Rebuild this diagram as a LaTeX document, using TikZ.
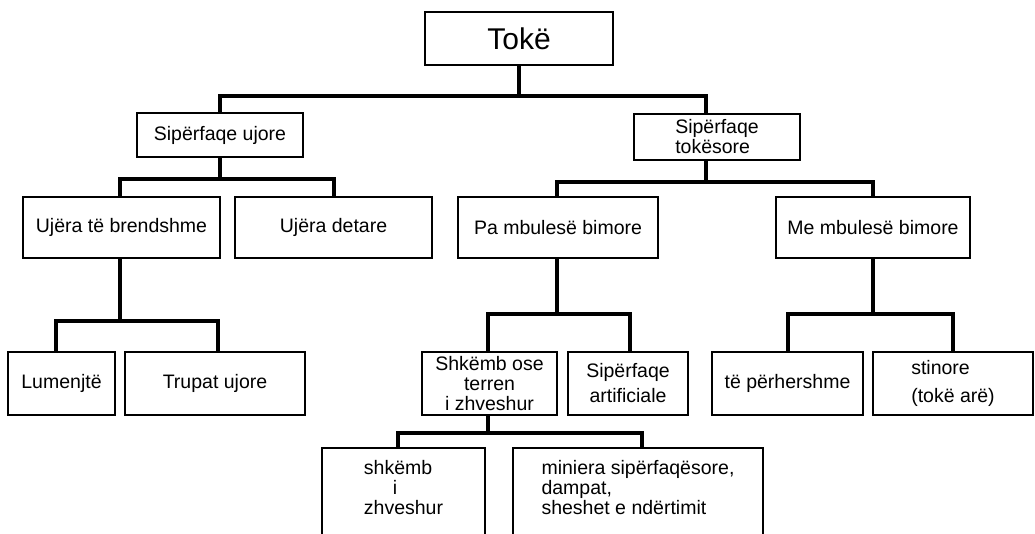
\documentclass[tikz,border=0pt]{standalone}
\usepackage{fontspec}
\setmainfont{Liberation Sans}
\usetikzlibrary{calc}
\begin{document}
\begin{tikzpicture}[x=1pt,y=-1pt,
  box/.style={draw=black, line width=2.5pt, fill=white, inner sep=0pt,
    font=\fontsize{19.5}{20}\selectfont, align=center},
  openbox/.style={draw=none, inner sep=0pt, outer sep=0pt,
    font=\fontsize{19.5}{20}\selectfont},
  boxline/.style={draw=black, line width=2.5pt, line join=miter},
  wh/.style 2 args={minimum width=#1pt, minimum height=#2pt},
  conn/.style={draw=black, line width=4pt, line join=miter}]
\useasboundingbox (0,0) rectangle (1035,534);
\clip (0,0) rectangle (1035,534);

% level 0
\node[box, wh={188}{53}, font=\fontsize{30}{32}\selectfont] (toke) at (519,38.5) {Tokë};

% level 1
\node[box, wh={166}{44}] (ujore) at (220,135) {Sipërfaqe ujore};
\node[box, wh={166}{46}, align=left] (tokesore) at (717,137) {Sipërfaqe\\tokësore};

% level 2
\node[box, wh={197}{61}] (brendshme) at (121.5,227.5) {Ujëra të brendshme};
\node[box, wh={197}{61}] (detare) at (333.5,227.5) {Ujëra detare};
\node[box, wh={200}{61}] (pambul) at (558,227.5) {Pa mbulesë bimore};
\node[box, wh={194}{61}] (mebul) at (873,227.5) {Me mbulesë bimore};

% level 3
\node[box, wh={107}{63}] (lumenj) at (61.5,383.5) {Lumenjtë};
\node[box, wh={180}{63}] (trupat) at (215,383.5) {Trupat ujore};
\node[box, wh={135}{63}] (shkemb) at (489.5,383.5) {Shkëmb ose\\terren\hspace*{16pt}\\i zhveshur};
\node[box, wh={120}{63}] (artif) at (628,383.5) {Sipërfaqe\\[5pt]artificiale};
\node[box, wh={151}{63}] (perh) at (787.5,383.5) {të përhershme};
\node[box, wh={160}{63}, align=left] (stinore) at (953,383.5) {stinore\\[8pt](tokë arë)};

% level 4: boxes running off the lower edge
\node[openbox, wh={163}{80}, align=left] (shkzh) at (403.5,488) {shkëmb\\\hspace*{29pt}i\\zhveshur};
\node[openbox, wh={250}{80}, align=left] (miniera) at (638,488) {miniera sipërfaqësore,\\dampat,\\sheshet e ndërtimit};
\draw[boxline] ([yshift=-30pt]shkzh.south west) -- (shkzh.north west)
  -- (shkzh.north east) -- ([yshift=-30pt]shkzh.south east);
\draw[boxline] ([yshift=-30pt]miniera.south west) -- (miniera.north west)
  -- (miniera.north east) -- ([yshift=-30pt]miniera.south east);

% connectors
\draw[conn] (toke.south) -- ++(0,30) coordinate (j0);
\draw[conn] (j0) -| (ujore.north);
\draw[conn] (j0) -| ($(tokesore.north)+(-11,0)$);

\draw[conn] (ujore.south) -- ++(0,21) coordinate (j1);
\draw[conn] (j1) -| ($(brendshme.north)+(-1.5,0)$);
\draw[conn] (j1) -| (detare.north);

\draw[conn] ($(tokesore.south)+(-11,0)$) -- ++(0,21) coordinate (j2);
\draw[conn] (j2) -| ($(pambul.north)+(-1,0)$);
\draw[conn] (j2) -| (mebul.north);

\draw[conn] ($(brendshme.south)+(-1.5,0)$) -- ++(0,62) coordinate (j3);
\draw[conn] (j3) -| ($(lumenj.north)+(-6,0)$);
\draw[conn] (j3) -| ($(trupat.north)+(3,0)$);

\draw[conn] ($(pambul.south)+(-1,0)$) -- ++(0,55) coordinate (j4);
\draw[conn] (j4) -| ($(shkemb.north)+(-1.5,0)$);
\draw[conn] (j4) -| ($(artif.north)+(2,0)$);

\draw[conn] (mebul.south) -- ++(0,55) coordinate (j5);
\draw[conn] (j5) -| (perh.north);
\draw[conn] (j5) -| (stinore.north);

\draw[conn] ($(shkemb.south)+(-1.5,0)$) -- ++(0,17) coordinate (j6);
\draw[conn] (j6) -| ($(shkzh.north)+(-5.5,0)$);
\draw[conn] (j6) -| ($(miniera.north)+(4,0)$);
\end{tikzpicture}
\end{document}
